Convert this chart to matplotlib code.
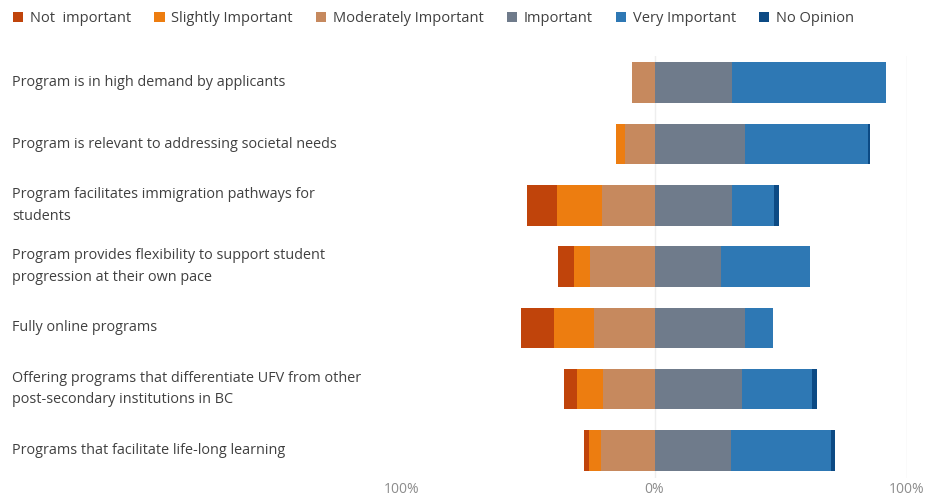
import numpy as np
import matplotlib.pyplot as plt
from matplotlib.patches import Patch
from matplotlib.transforms import blended_transform_factory

plt.rcParams['font.family'] = ['Open Sans', 'DejaVu Sans']

items = [
    "Program is in high demand by applicants",
    "Program is relevant to addressing societal needs",
    "Program facilitates immigration pathways for\nstudents",
    "Program provides flexibility to support student\nprogression at their own pace",
    "Fully online programs",
    "Offering programs that differentiate UFV from other\npost-secondary institutions in BC",
    "Programs that facilitate life-long learning",
]

# percent of respondents per rating
not_important = [0, 0, 12, 6.5, 12.8, 5.1, 2]
slightly = [0, 3.6, 17.8, 6.3, 16, 10.2, 4.9]
moderately = [9, 11.6, 20.8, 25.5, 24, 20.4, 21.2]
important = [30.8, 36, 30.8, 26.5, 36, 34.7, 30.3]
very_important = [60.9, 48.5, 16.6, 34.9, 10.8, 27.7, 39.6]
no_opinion = [0, 1, 1.8, 0, 0, 2.1, 1.7]

labels = ["Not  important", "Slightly Important", "Moderately Important",
          "Important", "Very Important", "No Opinion"]
colors = ["#c0440b", "#ed7d10", "#c6895e", "#6f7b8b", "#2e78b4", "#0c4a84"]

fig = plt.figure(figsize=(9.29, 4.97), dpi=100)
ax = fig.add_axes([402/929, 1 - 478/497, 505/929, (478 - 56)/497])

y = np.arange(len(items))
h = 0.66

# negative side stacks outward from zero
neg = [moderately, slightly, not_important]
neg_cols = [colors[2], colors[1], colors[0]]
left = np.zeros(len(items))
for vals, c in zip(neg, neg_cols):
    vals = np.array(vals)
    ax.barh(y, -vals, left=-left, height=h, color=c, linewidth=0)
    left += vals

pos = [important, very_important, no_opinion]
pos_cols = colors[3:]
start = np.zeros(len(items))
for vals, c in zip(pos, pos_cols):
    vals = np.array(vals)
    ax.barh(y, vals, left=start, height=h, color=c, linewidth=0)
    start += vals

ax.set_xlim(-100, 100)
ax.set_ylim(6.449, -0.436)
ax.axvline(0, color="#eeeeee", lw=1, zorder=0)
ax.axvline(100, color="#e6e6e6", lw=1, zorder=0)

for s in ax.spines.values():
    s.set_visible(False)
ax.set_yticks([])
ax.set_xticks([-100, 0, 100])
ax.set_xticklabels(["100%", "0%", "100%"], color="#8c8c8c", fontsize=10)
ax.tick_params(axis="x", length=0, pad=3)

# category labels sit at the left edge of the figure
lab_tr = blended_transform_factory(fig.transFigure, ax.transData)
for yi, txt in zip(y, items):
    ax.text(12/929, yi, txt, transform=lab_tr, fontsize=10.4,
            color="#404040", va="center", ha="left", linespacing=1.6)

handles = [Patch(facecolor=c, label=l) for c, l in zip(colors, labels)]
fig.legend(handles=handles, loc="center left", bbox_to_anchor=(0/929, 1 - 18.5/497),
           ncol=6, frameon=False, fontsize=10.5, handlelength=0.7, handleheight=0.7,
           handletextpad=0.45, columnspacing=1.6, labelcolor="#404040")

fig.savefig("out.png", dpi=100)
